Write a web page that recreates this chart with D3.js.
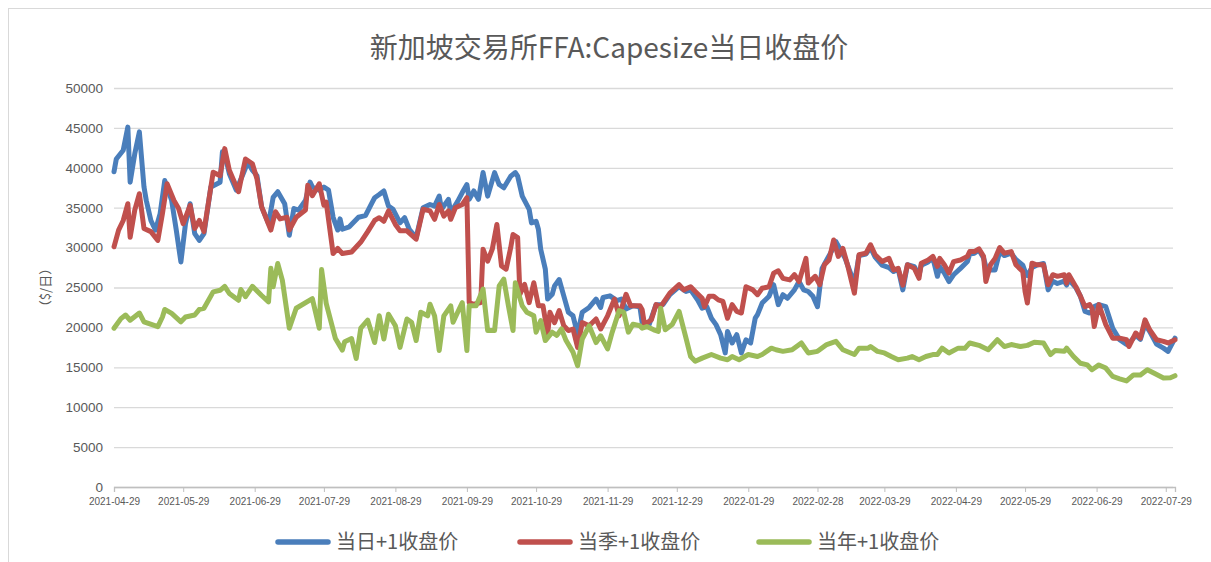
<!DOCTYPE html>
<html>
<head>
<meta charset="utf-8">
<script src="https://cdnjs.cloudflare.com/ajax/libs/d3/7.8.5/d3.min.js"></script>
<style>
  body { margin: 0; background: #fff; }
  svg text { fill: #595959; }
</style>
</head>
<body>
<div id="chart"></div>
<script>
////////////////////////////////////////////////////////////
//////////////////////// Data //////////////////////////////
////////////////////////////////////////////////////////////

var chartTitle = "新加坡交易所FFA:Capesize当日收盘价";
var yAxisTitle = "（$/日）";
var seriesNames = ["当日+1收盘价", "当季+1收盘价", "当年+1收盘价"];

// 当日+1收盘价
var dailyCloses = [
  ["2021-04-29",39500],["2021-04-30",41100],["2021-05-03",42200],["2021-05-05",45100],["2021-05-06",38200],
  ["2021-05-08",41750],["2021-05-10",44500],["2021-05-12",37600],["2021-05-13",35900],["2021-05-15",33400],
  ["2021-05-17",32200],["2021-05-19",34250],["2021-05-21",38400],["2021-05-24",35900],["2021-05-26",32200],
  ["2021-05-28",28200],["2021-05-30",33000],["2021-06-01",35500],["2021-06-03",31750],["2021-06-05",30900],
  ["2021-06-07",31750],["2021-06-10",37600],["2021-06-14",38200],["2021-06-15",42000],["2021-06-17",40500],
  ["2021-06-18",39250],["2021-06-21",37200],["2021-06-24",39250],["2021-06-26",40700],["2021-06-28",39700],
  ["2021-06-30",39000],["2021-07-02",35100],["2021-07-05",33000],["2021-07-07",36300],["2021-07-09",37000],
  ["2021-07-12",35500],["2021-07-14",31550],["2021-07-16",34900],["2021-07-18",34700],["2021-07-21",35900],
  ["2021-07-23",38200],["2021-07-24",37600],["2021-07-27",37200],["2021-07-29",37600],["2021-07-31",37200],
  ["2021-08-02",33800],["2021-08-04",32200],["2021-08-05",33600],["2021-08-06",32300],["2021-08-09",32600],
  ["2021-08-13",33800],["2021-08-16",34000],["2021-08-19",35700],["2021-08-20",36250],["2021-08-22",36650],
  ["2021-08-24",37100],["2021-08-26",35200],["2021-08-28",34800],["2021-08-31",33100],["2021-09-02",33750],
  ["2021-09-04",32300],["2021-09-07",31250],["2021-09-10",35000],["2021-09-13",35400],["2021-09-15",35200],
  ["2021-09-17",36450],["2021-09-18",34800],["2021-09-21",36050],["2021-09-22",34400],["2021-09-25",35800],
  ["2021-09-27",36900],["2021-09-29",37900],["2021-09-30",36050],["2021-10-02",37100],["2021-10-04",36050],
  ["2021-10-06",39400],["2021-10-08",36450],["2021-10-11",39400],["2021-10-13",37900],["2021-10-15",37500],
  ["2021-10-18",38950],["2021-10-20",39400],["2021-10-21",38950],["2021-10-23",36450],["2021-10-26",34800],
  ["2021-10-27",33100],["2021-10-29",33300],["2021-10-30",32300],["2021-10-31",29800],["2021-11-02",27300],
  ["2021-11-03",23550],["2021-11-05",24150],["2021-11-06",25200],["2021-11-08",26000],["2021-11-10",23950],
  ["2021-11-12",21900],["2021-11-14",21450],["2021-11-16",19150],["2021-11-18",21900],["2021-11-21",22500],
  ["2021-11-24",23550],["2021-11-26",22500],["2021-11-27",23750],["2021-11-30",23950],["2021-12-03",23350],
  ["2021-12-05",23550],["2021-12-07",22300],["2021-12-10",22700],["2021-12-13",22600],["2021-12-14",20550],
  ["2021-12-17",20350],["2021-12-20",22850],["2021-12-23",22850],["2021-12-26",24100],["2021-12-30",25100],
  ["2022-01-02",24500],["2022-01-04",24700],["2022-01-07",23450],["2022-01-09",22400],["2022-01-11",22600],
  ["2022-01-13",21150],["2022-01-15",20350],["2022-01-17",19100],["2022-01-19",16800],["2022-01-20",19500],
  ["2022-01-22",18050],["2022-01-24",19100],["2022-01-26",16800],["2022-01-28",18450],["2022-01-30",18050],
  ["2022-02-01",21150],["2022-02-02",21600],["2022-02-04",23050],["2022-02-07",23900],["2022-02-09",25350],
  ["2022-02-11",22850],["2022-02-13",24100],["2022-02-15",23650],["2022-02-18",24700],["2022-02-20",25750],
  ["2022-02-22",24700],["2022-02-24",24500],["2022-02-26",23900],["2022-02-28",22600],["2022-03-02",27400],
  ["2022-03-04",28450],["2022-03-06",29500],["2022-03-08",30750],["2022-03-10",29700],["2022-03-12",28650],
  ["2022-03-16",25500],["2022-03-18",29000],["2022-03-21",29200],["2022-03-23",30000],["2022-03-25",28800],
  ["2022-03-28",27800],["2022-03-31",27500],["2022-04-02",27000],["2022-04-04",27300],["2022-04-06",24700],
  ["2022-04-08",27850],["2022-04-11",27600],["2022-04-13",26500],["2022-04-14",27800],["2022-04-17",28200],
  ["2022-04-19",28700],["2022-04-21",26400],["2022-04-22",27600],["2022-04-24",26800],["2022-04-26",25750],
  ["2022-04-28",26600],["2022-05-01",27400],["2022-05-04",28250],["2022-05-05",29200],["2022-05-07",29300],
  ["2022-05-09",29700],["2022-05-11",28700],["2022-05-12",27600],["2022-05-14",27200],["2022-05-16",27200],
  ["2022-05-18",29500],["2022-05-20",29000],["2022-05-23",29300],["2022-05-25",28500],["2022-05-28",27800],
  ["2022-05-29",27000],["2022-05-30",26500],["2022-06-01",27500],["2022-06-03",27800],["2022-06-06",28000],
  ["2022-06-08",24700],["2022-06-10",25800],["2022-06-12",25500],["2022-06-15",25800],["2022-06-16",25300],
  ["2022-06-17",26000],["2022-06-20",25000],["2022-06-22",23900],["2022-06-24",22000],["2022-06-26",21800],
  ["2022-06-27",22000],["2022-06-28",22600],["2022-06-30",22850],["2022-07-03",22600],["2022-07-06",19900],
  ["2022-07-09",18450],["2022-07-12",17850],["2022-07-13",18000],["2022-07-16",19000],["2022-07-18",18500],
  ["2022-07-20",20400],["2022-07-22",19500],["2022-07-25",17900],["2022-07-28",17400],["2022-07-30",17000],
  ["2022-08-02",18650]
];

// 当季+1收盘价
var quarterCloses = [
  ["2021-04-29",30100],["2021-05-01",32200],["2021-05-03",33400],["2021-05-05",35500],["2021-05-06",31300],
  ["2021-05-08",34700],["2021-05-10",36750],["2021-05-12",32400],["2021-05-15",32000],["2021-05-18",30900],
  ["2021-05-20",34250],["2021-05-22",38000],["2021-05-25",35900],["2021-05-27",34900],["2021-05-29",33000],
  ["2021-06-01",35300],["2021-06-03",32400],["2021-06-05",33400],["2021-06-07",32000],["2021-06-11",39450],
  ["2021-06-14",39000],["2021-06-16",42400],["2021-06-18",39700],["2021-06-22",37000],["2021-06-23",38400],
  ["2021-06-25",41100],["2021-06-28",40500],["2021-06-30",38600],["2021-07-02",35100],["2021-07-06",32200],
  ["2021-07-08",34500],["2021-07-10",33600],["2021-07-13",33800],["2021-07-14",32200],["2021-07-17",33800],
  ["2021-07-21",34700],["2021-07-22",37800],["2021-07-24",36500],["2021-07-27",38000],["2021-07-29",35300],
  ["2021-07-30",35700],["2021-08-02",29250],["2021-08-04",29900],["2021-08-06",29250],["2021-08-10",29450],
  ["2021-08-14",30700],["2021-08-17",32000],["2021-08-20",33400],["2021-08-22",33750],["2021-08-24",33300],
  ["2021-08-26",34600],["2021-08-29",32900],["2021-08-31",32100],["2021-09-03",32100],["2021-09-07",31050],
  ["2021-09-10",34800],["2021-09-13",34600],["2021-09-15",33550],["2021-09-17",35400],["2021-09-19",33950],
  ["2021-09-21",34600],["2021-09-22",33550],["2021-09-24",35000],["2021-09-27",35400],["2021-09-29",36250],
  ["2021-09-30",23100],["2021-10-02",22900],["2021-10-05",23100],["2021-10-06",29800],["2021-10-08",28300],
  ["2021-10-10",29800],["2021-10-12",32900],["2021-10-14",27700],["2021-10-16",27300],["2021-10-18",30000],
  ["2021-10-19",31650],["2021-10-21",31250],["2021-10-22",24150],["2021-10-24",25400],["2021-10-26",23100],
  ["2021-10-28",25600],["2021-10-30",22700],["2021-11-01",22700],["2021-11-03",19150],["2021-11-04",21900],
  ["2021-11-06",20600],["2021-11-08",22100],["2021-11-10",20200],["2021-11-12",19600],["2021-11-14",19800],
  ["2021-11-16",17500],["2021-11-18",20600],["2021-11-21",20200],["2021-11-24",21050],["2021-11-26",19800],
  ["2021-11-29",21450],["2021-12-02",23550],["2021-12-04",21450],["2021-12-07",24150],["2021-12-09",22700],
  ["2021-12-13",22700],["2021-12-14",22200],["2021-12-15",20350],["2021-12-18",20950],["2021-12-20",22850],
  ["2021-12-22",22600],["2021-12-26",24300],["2021-12-30",25350],["2022-01-01",24700],["2022-01-04",25100],
  ["2022-01-06",24500],["2022-01-09",23650],["2022-01-10",22600],["2022-01-12",23900],["2022-01-14",23900],
  ["2022-01-16",23450],["2022-01-18",23250],["2022-01-20",21150],["2022-01-22",22850],["2022-01-24",22000],
  ["2022-01-26",21800],["2022-01-28",25100],["2022-01-31",24700],["2022-02-02",24100],["2022-02-04",24900],
  ["2022-02-07",25100],["2022-02-09",26800],["2022-02-11",27100],["2022-02-13",26150],["2022-02-16",25950],
  ["2022-02-18",26600],["2022-02-20",25750],["2022-02-23",28650],["2022-02-24",25550],["2022-02-27",26400],
  ["2022-03-01",25350],["2022-03-03",27850],["2022-03-05",28450],["2022-03-07",30950],["2022-03-09",28900],
  ["2022-03-11",29900],["2022-03-13",27850],["2022-03-16",24300],["2022-03-18",29100],["2022-03-21",29300],
  ["2022-03-23",30350],["2022-03-25",29100],["2022-03-28",28250],["2022-03-31",28650],["2022-04-02",27200],
  ["2022-04-04",27400],["2022-04-06",25300],["2022-04-08",27850],["2022-04-11",27400],["2022-04-13",26150],
  ["2022-04-14",28050],["2022-04-17",28450],["2022-04-19",28900],["2022-04-21",27650],["2022-04-22",28650],
  ["2022-04-24",27850],["2022-04-26",26800],["2022-04-28",28250],["2022-05-01",28450],["2022-05-04",28900],
  ["2022-05-05",29500],["2022-05-07",29500],["2022-05-09",29850],["2022-05-11",28900],["2022-05-12",25750],
  ["2022-05-14",27850],["2022-05-16",28650],["2022-05-18",30000],["2022-05-20",29300],["2022-05-23",29500],
  ["2022-05-25",27850],["2022-05-28",27000],["2022-05-29",24500],["2022-05-30",23050],["2022-06-01",28050],
  ["2022-06-03",27850],["2022-06-06",27850],["2022-06-08",25350],["2022-06-10",26600],["2022-06-12",26400],
  ["2022-06-15",26600],["2022-06-16",25550],["2022-06-17",26600],["2022-06-20",25100],["2022-06-22",23900],
  ["2022-06-24",22600],["2022-06-26",22850],["2022-06-27",22400],["2022-06-28",20100],["2022-06-30",22850],
  ["2022-07-03",20350],["2022-07-06",18650],["2022-07-09",18650],["2022-07-12",18450],["2022-07-13",17600],
  ["2022-07-16",19300],["2022-07-18",18650],["2022-07-20",20950],["2022-07-22",19700],["2022-07-25",18450],
  ["2022-07-28",18250],["2022-07-30",18050],["2022-08-02",18450]
];

// 当年+1收盘价
var yearCloses = [
  ["2021-04-29",19900],["2021-05-02",21100],["2021-05-04",21550],["2021-05-06",20900],["2021-05-10",21800],
  ["2021-05-12",20700],["2021-05-18",20100],["2021-05-20",21300],["2021-05-21",22250],["2021-05-24",21750],
  ["2021-05-28",20700],["2021-05-30",21300],["2021-06-03",21550],["2021-06-05",22250],["2021-06-07",22400],
  ["2021-06-11",24450],["2021-06-14",24650],["2021-06-16",25150],["2021-06-18",24250],["2021-06-22",23400],
  ["2021-06-23",24750],["2021-06-25",23850],["2021-06-28",25150],["2021-07-02",24000],["2021-07-05",23200],
  ["2021-07-06",27400],["2021-07-07",25100],["2021-07-09",28000],["2021-07-11",25900],["2021-07-14",19900],
  ["2021-07-17",22400],["2021-07-24",23600],["2021-07-27",19900],["2021-07-28",27250],["2021-07-30",23000],
  ["2021-08-03",18600],["2021-08-06",17150],["2021-08-07",18200],["2021-08-10",18600],["2021-08-12",16100],
  ["2021-08-14",19900],["2021-08-17",20900],["2021-08-20",18100],["2021-08-22",21450],["2021-08-24",18550],
  ["2021-08-26",21650],["2021-08-29",20200],["2021-08-31",17500],["2021-09-03",21050],["2021-09-05",20650],
  ["2021-09-07",18350],["2021-09-09",21900],["2021-09-12",21450],["2021-09-13",22900],["2021-09-15",21450],
  ["2021-09-17",17100],["2021-09-19",21450],["2021-09-22",22700],["2021-09-23",20650],["2021-09-25",21900],
  ["2021-09-27",23100],["2021-09-29",17100],["2021-09-30",22700],["2021-10-03",22700],["2021-10-06",24800],
  ["2021-10-08",19600],["2021-10-11",19600],["2021-10-13",25200],["2021-10-15",26050],["2021-10-17",22700],
  ["2021-10-19",19600],["2021-10-20",25600],["2021-10-23",22700],["2021-10-25",21900],["2021-10-28",21450],
  ["2021-10-29",19400],["2021-10-31",20850],["2021-11-02",18350],["2021-11-05",19400],["2021-11-07",19000],
  ["2021-11-09",19800],["2021-11-11",18350],["2021-11-14",16900],["2021-11-16",15200],["2021-11-18",18550],
  ["2021-11-21",20200],["2021-11-24",18100],["2021-11-26",18950],["2021-11-29",17300],["2021-12-01",19400],
  ["2021-12-04",22100],["2021-12-06",21900],["2021-12-08",19400],["2021-12-10",20400],["2021-12-13",20200],
  ["2021-12-14",19900],["2021-12-16",20100],["2021-12-19",19700],["2021-12-21",19500],["2021-12-22",22400],
  ["2021-12-24",19700],["2021-12-27",20350],["2021-12-30",22000],["2022-01-02",18650],["2022-01-04",16350],
  ["2022-01-06",15750],["2022-01-09",16150],["2022-01-13",16600],["2022-01-17",16150],["2022-01-20",15950],
  ["2022-01-22",16350],["2022-01-25",15950],["2022-01-29",16600],["2022-02-02",16350],["2022-02-04",16600],
  ["2022-02-08",17400],["2022-02-10",17200],["2022-02-13",17000],["2022-02-17",17200],["2022-02-21",18050],
  ["2022-02-24",16800],["2022-02-28",17000],["2022-03-04",17850],["2022-03-08",18250],["2022-03-11",17200],
  ["2022-03-16",16600],["2022-03-18",17400],["2022-03-22",17400],["2022-03-23",17600],["2022-03-26",17000],
  ["2022-03-29",16800],["2022-04-01",16350],["2022-04-04",15950],["2022-04-08",16150],["2022-04-10",16350],
  ["2022-04-13",15950],["2022-04-16",16350],["2022-04-19",16600],["2022-04-21",16600],["2022-04-23",17400],
  ["2022-04-26",16800],["2022-04-30",17400],["2022-05-03",17400],["2022-05-05",18050],["2022-05-09",17750],
  ["2022-05-13",17200],["2022-05-17",18450],["2022-05-20",17600],["2022-05-23",17850],["2022-05-27",17600],
  ["2022-05-30",17750],["2022-06-02",18150],["2022-06-06",18050],["2022-06-09",16600],["2022-06-11",17100],
  ["2022-06-15",17000],["2022-06-16",17400],["2022-06-19",16350],["2022-06-22",15500],["2022-06-25",15300],
  ["2022-06-27",14700],["2022-06-30",15300],["2022-07-03",14900],["2022-07-06",13850],["2022-07-09",13550],
  ["2022-07-12",13300],["2022-07-15",14050],["2022-07-18",14050],["2022-07-21",14700],["2022-07-24",14250],
  ["2022-07-28",13650],["2022-07-31",13700],["2022-08-02",13950]
];

var yTickValues = [0, 5000, 10000, 15000, 20000, 25000, 30000, 35000, 40000, 45000, 50000];
var xTickLabels = ["2021-04-29","2021-05-29","2021-06-29","2021-07-29","2021-08-29","2021-09-29",
  "2021-10-29","2021-11-29","2021-12-29","2022-01-29","2022-02-28","2022-03-29","2022-04-29",
  "2022-05-29","2022-06-29","2022-07-29"];
var xDomain = ["2021-04-29", "2022-08-02"];

////////////////////////////////////////////////////////////
//////////////////////// Set-Up ////////////////////////////
////////////////////////////////////////////////////////////

var width = 1211, height = 562,
    plot = {left: 114, right: 1175, top: 88, bottom: 487},
    colors = ["#4a7ebb", "#c0504d", "#9bbb59"],
    cjkFont = "'Noto Sans CJK SC', sans-serif",
    numFont = "'Liberation Sans', Arial, sans-serif";

var parseDate = d3.timeParse("%Y-%m-%d");

var allSeries = [dailyCloses, quarterCloses, yearCloses].map(function(s) {
  return s.map(function(d) { return {date: parseDate(d[0]), value: d[1]}; });
});

var x = d3.scaleTime()
  .domain(xDomain.map(parseDate))
  .range([plot.left, plot.right]);

var y = d3.scaleLinear()
  .domain([0, 50000])
  .range([plot.bottom, plot.top]);

var svg = d3.select("#chart").append("svg")
  .attr("width", width)
  .attr("height", height);

// outer frame (cut off at right and bottom like the original screenshot)
svg.append("rect")
  .attr("x", 8.5).attr("y", 8.5)
  .attr("width", width + 20).attr("height", height + 20)
  .attr("fill", "none")
  .attr("stroke", "#d9d9d9");

////////////////////////////////////////////////////////////
//////////////////////// Axes //////////////////////////////
////////////////////////////////////////////////////////////

var yAxis = svg.append("g")
  .attr("transform", "translate(" + plot.left + ",0)")
  .call(d3.axisLeft(y)
    .tickValues(yTickValues)
    .tickSize(-(plot.right - plot.left - 2))
    .tickPadding(11)
    .tickFormat(d3.format("d")));
yAxis.select(".domain").remove();
yAxis.selectAll(".tick line")
  .attr("stroke", "#d9d9d9")
  .attr("stroke-width", 1.3);
yAxis.selectAll(".tick text")
  .style("font-family", numFont)
  .style("font-size", "13.5px")
  .attr("fill", "#595959");

var xAxis = svg.append("g")
  .attr("transform", "translate(0," + plot.bottom + ")")
  .call(d3.axisBottom(x)
    .tickValues(xTickLabels.map(parseDate))
    .tickSize(5)
    .tickPadding(6)
    .tickFormat(d3.timeFormat("%Y-%m-%d")));
xAxis.select(".domain").attr("stroke", "#bfbfbf").attr("stroke-width", 1.3);
xAxis.selectAll(".tick line").attr("stroke", "#bfbfbf");
xAxis.selectAll(".tick text")
  .style("font-family", numFont)
  .style("font-size", "10px")
  .attr("fill", "#595959");

// y axis title
svg.append("text")
  .attr("transform", "translate(50," + ((plot.top + plot.bottom) / 2) + ") rotate(-90)")
  .attr("text-anchor", "middle")
  .style("font-family", cjkFont)
  .style("font-size", "13px")
  .text(yAxisTitle);

// chart title
svg.append("text")
  .attr("x", 609)
  .attr("y", 58)
  .attr("text-anchor", "middle")
  .style("font-family", cjkFont)
  .style("font-size", "28px")
  .text(chartTitle);

////////////////////////////////////////////////////////////
//////////////////////// Lines /////////////////////////////
////////////////////////////////////////////////////////////

var line = d3.line()
  .x(function(d) { return x(d.date); })
  .y(function(d) { return y(d.value); });

svg.selectAll("path.series")
  .data(allSeries)
  .enter().append("path")
  .attr("class", "series")
  .attr("d", line)
  .attr("fill", "none")
  .attr("stroke", function(d, i) { return colors[i]; })
  .attr("stroke-width", 5)
  .attr("stroke-linejoin", "round")
  .attr("stroke-linecap", "round");

////////////////////////////////////////////////////////////
//////////////////////// Legend ////////////////////////////
////////////////////////////////////////////////////////////

var legendX = [276, 518, 757], legendY = 542;

var legend = svg.selectAll("g.legend")
  .data(seriesNames)
  .enter().append("g")
  .attr("class", "legend")
  .attr("transform", function(d, i) { return "translate(" + legendX[i] + "," + legendY + ")"; });

legend.append("line")
  .attr("x1", 2).attr("x2", 52)
  .attr("stroke", function(d, i) { return colors[i]; })
  .attr("stroke-width", 5.5)
  .attr("stroke-linecap", "round");

legend.append("text")
  .attr("x", 60)
  .attr("dy", "0.36em")
  .style("font-family", cjkFont)
  .style("font-size", "20px")
  .text(function(d) { return d; });
</script>
</body>
</html>
